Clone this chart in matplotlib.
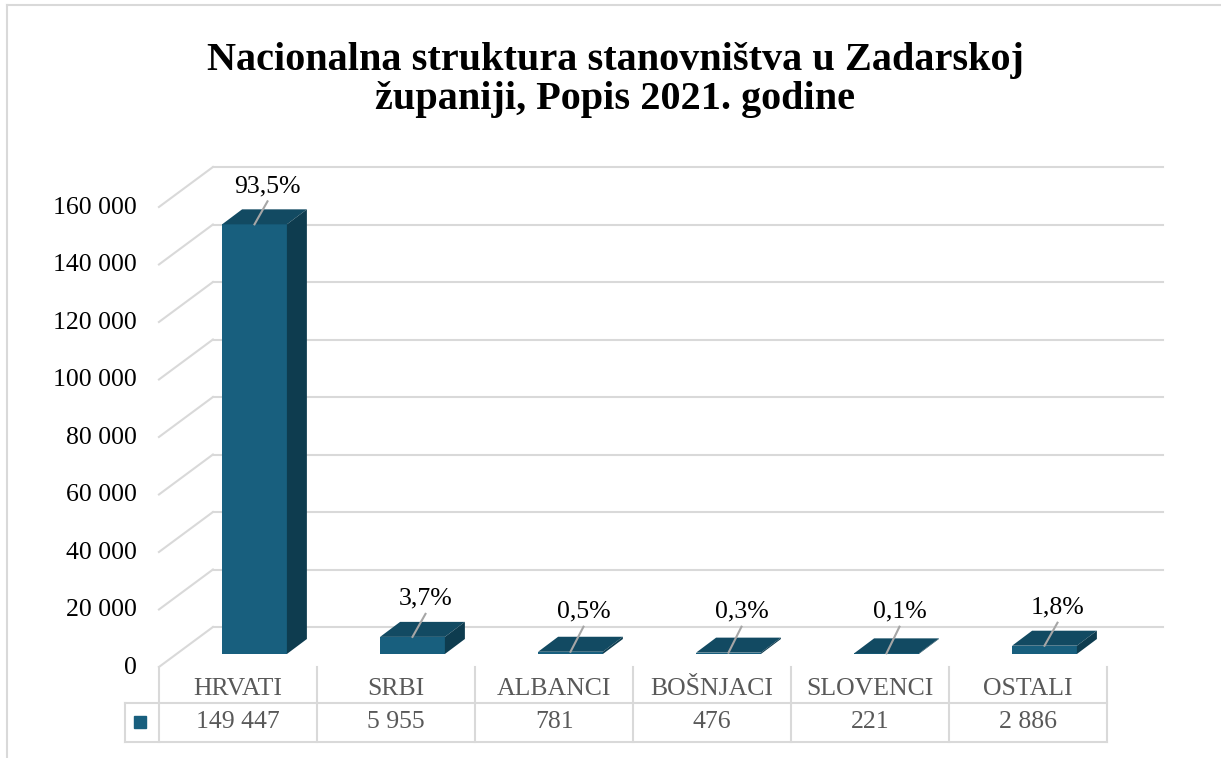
import numpy as np
import matplotlib
matplotlib.use("Agg")
import matplotlib.pyplot as plt
from matplotlib.lines import Line2D

plt.rcParams['font.family'] = ['Liberation Serif', 'DejaVu Serif']

# data
categories = ["HRVATI", "SRBI", "ALBANCI", "BOŠNJACI", "SLOVENCI", "OSTALI"]
values = [149447, 5955, 781, 476, 221, 2886]
percents = ["93,5%", "3,7%", "0,5%", "0,3%", "0,1%", "1,8%"]
yticks = [0, 20000, 40000, 60000, 80000, 100000, 120000, 140000, 160000]
title = "Nacionalna struktura stanovništva u Zadarskoj\nžupaniji, Popis 2021. godine"

# colours
c_front = "#185F7E"
c_top = "#124A62"
c_side = "#0E3C4F"
c_grid = "#D9D9D9"
c_lead = "#A6A6A6"
c_gray = "#595959"

W, H = 1221, 758
fig = plt.figure(figsize=(W / 100, H / 100), dpi=100)

# axes = front plane of the bars (pixel box: x 96.5..1202.5, y 194..654 from top)
ax_l, ax_r, ax_t, ax_b = 96.5, 1202.5, 194, 654
ax = fig.add_axes([ax_l / W, 1 - ax_b / H, (ax_r - ax_l) / W, (ax_b - ax_t) / H])
ax.set_xlim(-1, 6)
ax.set_ylim(0, 160000)
ax.axis('off')

# pixel -> data units
px_x = 7 / (ax_r - ax_l)
px_y = 160000 / (ax_b - ax_t)

# 3d offsets in pixels (dx right, dy up)
DX, DY = 20, 15          # bar depth
BX, BY = 36.5, 27        # back wall
FX, FY = -17.5, -13      # front edge of floor
xl, xr = -0.494, 5.519   # wall extent on the front plane
bw = 0.41

# walls / gridlines
for v in yticks:
    ax.plot([xl + BX * px_x, xr + BX * px_x], [v + BY * px_y] * 2,
            color=c_grid, lw=1.5, zorder=1, clip_on=False)
    ax.plot([xl + FX * px_x, xl + BX * px_x], [v + FY * px_y, v + BY * px_y],
            color=c_grid, lw=1.5, zorder=1, clip_on=False)
    ax.text(xl + (FX - 22) * px_x, v + (FY - 1) * px_y, f"{v:,}".replace(",", " "),
            ha='right', va='center', fontsize=18.5, color='black')

# bars
x = np.arange(len(categories))
ax.bar(x, values, width=bw, color=c_front, zorder=3, clip_on=False)
for xi, v in zip(x, values):
    x0, x1 = xi - bw / 2, xi + bw / 2
    ddx, ddy = DX * px_x, DY * px_y
    ax.fill([x0, x1, x1 + ddx, x0 + ddx], [v, v, v + ddy, v + ddy],
            color=c_top, zorder=3, clip_on=False, lw=0)
    ax.fill([x1, x1 + ddx, x1 + ddx, x1], [0, ddy, v + ddy, v],
            color=c_side, zorder=3, clip_on=False, lw=0)

# percent labels with leader lines
for xi, v, p in zip(x, values, percents):
    end_y = max(v + 8000, 9500)
    end_x = xi + 13 * px_x
    ax.plot([xi, end_x], [v, end_y], color=c_lead, lw=1.5, zorder=4, clip_on=False)
    ax.text(end_x, end_y + 4 * px_y, p, ha='center', va='bottom',
            fontsize=18.5, color='black', zorder=5)

# data table below
col_edges = np.arange(len(categories) + 1) - 0.604
leg_l = (125 - 254.5) / 158
y_floor = -13 * px_y
y_mid = -49 * px_y
y_bot = -88 * px_y
for ce in col_edges:
    ax.plot([ce, ce], [y_floor, y_bot], color=c_grid, lw=1.5, clip_on=False)
ax.plot([leg_l, col_edges[-1]], [y_mid, y_mid], color=c_grid, lw=1.5, clip_on=False)
ax.plot([leg_l, col_edges[-1]], [y_bot, y_bot], color=c_grid, lw=1.5, clip_on=False)
ax.plot([leg_l, leg_l], [y_mid, y_bot], color=c_grid, lw=1.5, clip_on=False)

for xi, cat, v in zip(x, categories, values):
    cx = xi - 0.104
    ax.text(cx, -35 * px_y, cat, ha='center', va='center', fontsize=18.5, color=c_gray)
    ax.text(cx, -68 * px_y, f"{v:,}".replace(",", " "), ha='center', va='center',
            fontsize=18.5, color=c_gray)
ax.plot([(140 - 254.5) / 158], [-68 * px_y], marker='s', ms=9, color=c_front,
        clip_on=False)

# title
fig.text(615 / W, 1 - 80 / H, title, ha='center', va='center', fontsize=29,
         fontweight='bold', linespacing=1.05)

# chart border (left and top)
fig.add_artist(Line2D([7 / W, 7 / W], [0, 1 - 5 / H], transform=fig.transFigure,
                      color=c_grid, lw=1.5))
fig.add_artist(Line2D([7 / W, 1], [1 - 5 / H, 1 - 5 / H], transform=fig.transFigure,
                      color=c_grid, lw=1.5))

fig.savefig("out.png", dpi=100)
